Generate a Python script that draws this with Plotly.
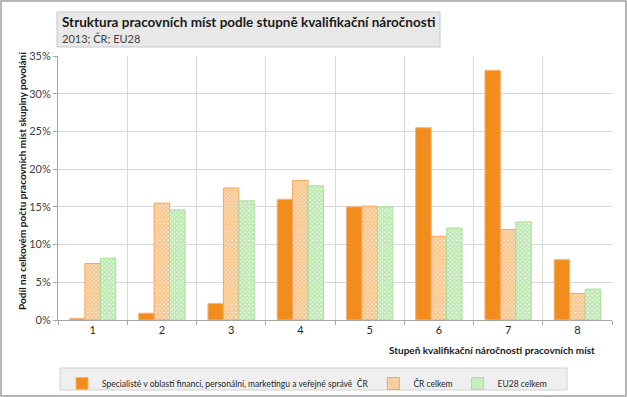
import plotly.graph_objects as go

categories = ["1", "2", "3", "4", "5", "6", "7", "8"]
spec_cr = [0.002, 0.009, 0.022, 0.160, 0.150, 0.255, 0.331, 0.080]
cr_total = [0.075, 0.155, 0.175, 0.185, 0.151, 0.111, 0.120, 0.035]
eu_total = [0.082, 0.146, 0.158, 0.178, 0.150, 0.122, 0.130, 0.041]

series_names = [
    "Specialisté v oblasti financí, personální, marketingu a veřejné správě  ČR",
    "ČR celkem",
    "EU28 celkem",
]

ORANGE = "#F28C1C"
GREEN = "#7ED366"
FONT = "Lato"

L, R, T, B = 58, 15, 56, 77
W, H = 627, 397
pw, ph = W - L - R, H - T - B


def px(x):
    return (x - L) / pw


def py(y):
    return (H - B - y) / ph


fig = go.Figure()
fig.add_trace(go.Bar(x=categories, y=spec_cr, name=series_names[0],
                     marker=dict(color=ORANGE, line=dict(color="#F6B574", width=1))))
fig.add_trace(go.Bar(x=categories, y=cr_total, name=series_names[1],
                     marker=dict(color="white",
                                 line=dict(color="#F7A55A", width=1),
                                 pattern=dict(shape="x", fgcolor=ORANGE, bgcolor="white",
                                              size=3, solidity=0.85))))
fig.add_trace(go.Bar(x=categories, y=eu_total, name=series_names[2],
                     marker=dict(color="white",
                                 line=dict(color="#A8E29A", width=1),
                                 pattern=dict(shape="x", fgcolor=GREEN, bgcolor="white",
                                              size=3, solidity=0.85))))

fig.update_layout(
    width=W, height=H,
    margin=dict(l=L, r=R, t=T, b=B, autoexpand=False),
    paper_bgcolor="white", plot_bgcolor="white",
    font=dict(family=FONT, size=10, color="#404040"),
    barmode="group", bargap=0.33, bargroupgap=0,
    showlegend=True,
    legend=dict(orientation="h", x=px(62), xanchor="left", y=py(369), yanchor="top",
                bgcolor="rgba(0,0,0,0)", font=dict(size=8.5, color="#262626", family=FONT),
                itemwidth=30, tracegroupgap=0, traceorder="normal"),
    xaxis=dict(type="category", tickson="boundaries", showgrid=True, gridcolor="#D9D9D9",
               gridwidth=1, ticks="outside", ticklen=4, tickcolor="#A6A6A6",
               showline=True, linecolor="#A6A6A6", tickfont=dict(size=11, color="#262626"),
               range=[-0.5, 7.5]),
    yaxis=dict(range=[0, 0.35], dtick=0.05, tickformat=".0%", showgrid=True,
               gridcolor="#D9D9D9", gridwidth=1, ticks="outside", ticklen=4,
               tickcolor="#A6A6A6", showline=True, linecolor="#A6A6A6",
               tickfont=dict(size=11, color="#404040"), zeroline=False),
    shapes=[
        dict(type="rect", xref="paper", yref="paper", x0=px(1), x1=px(626), y0=py(396), y1=py(1),
             line=dict(color="#A0A0A0", width=1.5), fillcolor="rgba(0,0,0,0)", layer="below"),
        dict(type="rect", xref="paper", yref="paper", x0=px(57), x1=px(440), y0=py(47), y1=py(12),
             line=dict(color="#C8C8C8", width=1), fillcolor="#E8E8E8", layer="below"),
        dict(type="rect", xref="paper", yref="paper", x0=px(60), x1=px(567), y0=py(390), y1=py(368),
             line=dict(color="#D0D0D0", width=1), fillcolor="#EFEFEF", layer="below"),
    ],
    annotations=[
        dict(text="<b>Struktura pracovních míst podle stupně kvalifikační náročnosti</b>",
             xref="paper", yref="paper", x=px(60), y=py(22), xanchor="left", yanchor="middle",
             showarrow=False, font=dict(size=13.5, color="#1A1A1A", family=FONT)),
        dict(text="2013; ČR; EU28", xref="paper", yref="paper", x=px(60), y=py(39),
             xanchor="left", yanchor="middle", showarrow=False,
             font=dict(size=11, color="#404040", family=FONT)),
        dict(text="<b>Podíl na celkovém počtu pracovních míst skupiny povolání</b>",
             xref="paper", yref="paper", x=px(22), y=py(181), xanchor="center", yanchor="middle",
             textangle=-90, showarrow=False, font=dict(size=10, color="#1A1A1A", family=FONT)),
        dict(text="<b>Stupeň kvalifikační náročnosti pracovních míst</b>",
             xref="paper", yref="paper", x=px(597), y=py(350), xanchor="right", yanchor="middle",
             showarrow=False, font=dict(size=10, color="#1A1A1A", family=FONT)),
    ],
)

fig.write_html("out.html", config={"displayModeBar": False},
               post_script="document.body.style.margin='0';")
